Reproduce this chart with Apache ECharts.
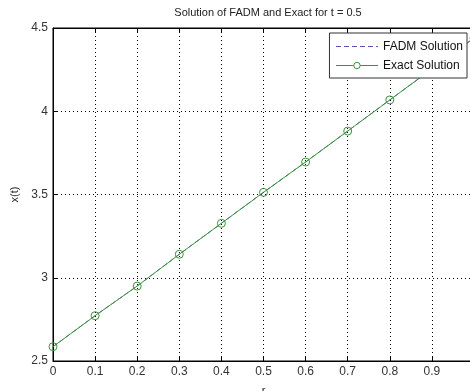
<!DOCTYPE html>
<html>
<head>
<meta charset="utf-8">
<script src="https://cdn.jsdelivr.net/npm/echarts@6/dist/echarts.min.js"></script>
<style>
html,body{margin:0;padding:0;background:#fff;}
#main{width:470px;height:391px;}
</style>
</head>
<body>
<div id="main"></div>
<script>
// data
var rValues = [0, 0.1, 0.2, 0.3, 0.4, 0.5, 0.6, 0.7, 0.8, 0.9, 1.0];
var fadmValues = [2.586, 2.772, 2.950, 3.141, 3.327, 3.513, 3.695, 3.881, 4.068, 4.254, 4.440];
var exactValues = [2.586, 2.772, 2.950, 3.141, 3.327, 3.513, 3.695, 3.881, 4.068, 4.254, 4.440];
var xTicks = [0, 0.1, 0.2, 0.3, 0.4, 0.5, 0.6, 0.7, 0.8, 0.9];
var yTicks = [2.5, 3, 3.5, 4, 4.5];

function pairs(xs, ys) {
  var out = [];
  for (var i = 0; i < xs.length; i++) out.push([xs[i], ys[i]]);
  return out;
}

var myChart = echarts.init(document.getElementById('main'));
var font = 'Liberation Sans, Arial, sans-serif';
var green = '#3a943a';
var blue = '#5555bb';

var option = {
  backgroundColor: '#fff',
  animation: false,
  textStyle: {fontFamily: font},
  title: {
    text: 'Solution of FADM and Exact for t = 0.5',
    left: 263, top: 2, textAlign: 'center',
    textStyle: {fontSize: 11, fontWeight: 'normal', color: '#222', fontFamily: font}
  },
  grid: {left: 53, top: 28, width: 421, height: 333, outerBoundsMode: 'none',
    show: true, borderColor: '#000', borderWidth: 1, backgroundColor: '#fff'},
  legend: {
    orient: 'vertical', right: 3, top: 33,
    backgroundColor: '#fff', borderColor: '#333', borderWidth: 1,
    padding: [7, 4, 6, 6], itemGap: 6, itemWidth: 42, itemHeight: 8,
    textStyle: {fontSize: 12, color: '#111', fontFamily: font, lineHeight: 13},
    data: [
      {name: 'FADM Solution', itemStyle: {opacity: 0}, lineStyle: {width: 1, color: blue, type: [5, 3]}},
      {name: 'Exact Solution', itemStyle: {color: '#fff', borderColor: green, borderWidth: 1}, lineStyle: {width: 1, color: green}}
    ]
  },
  xAxis: [{
    type: 'value', min: 0, max: 1, interval: 0.1,
    name: 'r', nameLocation: 'middle', nameGap: 24,
    nameTextStyle: {fontSize: 11, color: '#222'},
    axisLine: {lineStyle: {color: '#000', width: 1}},
    axisTick: {inside: true, length: 4, lineStyle: {color: '#000'}},
    axisLabel: {fontSize: 12, color: '#333', margin: 5, showMaxLabel: false,
      formatter: function (v) { var r = Math.round(v * 10) / 10; return xTicks.indexOf(r) >= 0 ? String(r) : ''; }},
    splitLine: {show: true, lineStyle: {color: '#000', type: [1, 3], width: 1}}
  }, {
    type: 'value', min: 0, max: 1, interval: 0.1, position: 'top',
    axisLine: {show: true, lineStyle: {color: '#000'}},
    axisTick: {inside: true, length: 4, lineStyle: {color: '#000'}},
    axisLabel: {show: false}, splitLine: {show: false}
  }],
  yAxis: {
    type: 'value', min: yTicks[0], max: yTicks[yTicks.length - 1], interval: 0.5,
    name: 'x(t)', nameLocation: 'middle', nameGap: 26, nameRotate: 90,
    nameTextStyle: {fontSize: 11, color: '#222'},
    axisLine: {show: true, lineStyle: {color: '#000', width: 1}},
    axisTick: {inside: true, length: 4, lineStyle: {color: '#000'}},
    axisLabel: {fontSize: 12, color: '#333', margin: 5},
    splitLine: {show: true, lineStyle: {color: '#000', type: [1, 3], width: 1}}
  },
  series: [{
    name: 'FADM Solution', type: 'line',
    data: pairs(rValues, fadmValues),
    showSymbol: false, symbol: 'none',
    lineStyle: {color: blue, width: 1, type: [5, 3]},
    itemStyle: {color: blue}
  }, {
    name: 'Exact Solution', type: 'line',
    data: pairs(rValues, exactValues),
    symbol: 'circle', symbolSize: 8,
    lineStyle: {color: green, width: 1},
    itemStyle: {color: 'rgba(0,0,0,0)', borderColor: green, borderWidth: 1}
  }]
};

myChart.setOption(option);
</script>
</body>
</html>
